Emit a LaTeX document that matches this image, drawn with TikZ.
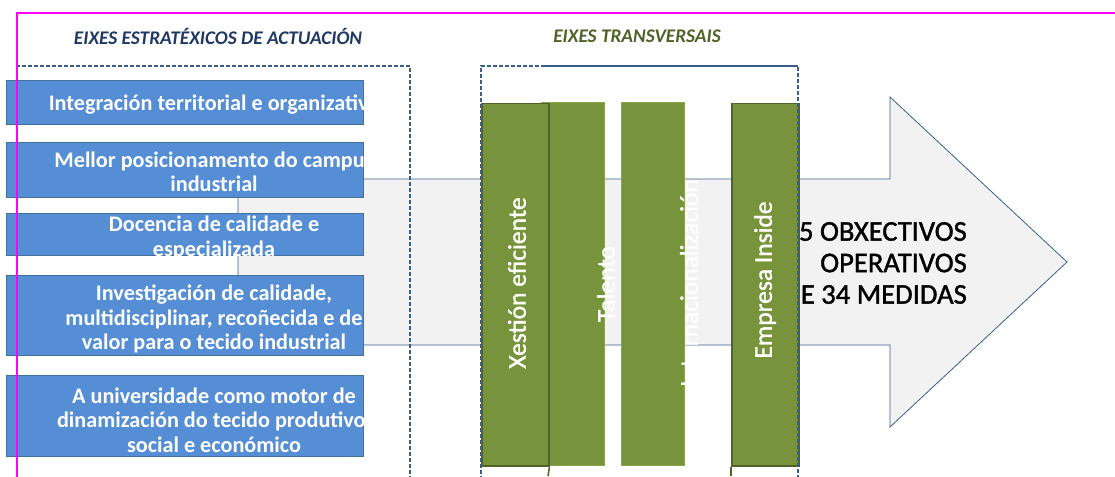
\documentclass[tikz,border=0pt]{standalone}
\usepackage{fontspec}
\setmainfont{Carlito}
\newfontfamily\heavyfont[FakeBold=1.3]{Carlito}
\definecolor{boxblue}{HTML}{558ED5}
\definecolor{boxline}{HTML}{41719C}
\definecolor{dashblue}{HTML}{3A5E8C}
\definecolor{barfill}{HTML}{77933C}
\definecolor{bardark}{HTML}{4F6228}
\definecolor{barlight}{HTML}{8AA54E}
\definecolor{arrowfill}{HTML}{F2F2F2}
\definecolor{navytitle}{HTML}{1F3864}
\definecolor{olivetitle}{HTML}{4F6228}
\definecolor{framemag}{HTML}{FF00FF}
\begin{document}
\begin{tikzpicture}[x=1pt,y=-1pt,
  bluebox/.style={draw=boxline, fill=boxblue, line width=1pt, inner sep=0pt, anchor=north west},
  boxtext/.style={text=white, font=\fontsize{22.2}{24.5}\selectfont\bfseries, align=center, inner sep=0pt},
  greenbar/.style={fill=barfill, draw=bardark, line width=1.5pt, inner sep=0pt, anchor=north west},
  lightbar/.style={fill=barfill, draw=barlight, line width=1pt, inner sep=0pt, anchor=north west},
  bartext/.style={text=white, font=\heavyfont\fontsize{25.5}{28}\selectfont, rotate=90, inner sep=0pt},
  dashbox/.style={draw=dashblue, line width=2pt, dash pattern=on 4pt off 2pt},
  titletext/.style={font=\fontsize{19.3}{22}\selectfont\bfseries\itshape, inner sep=0pt}]
\useasboundingbox (0,0) rectangle (1115,476);
% big arrow
\draw[draw=dashblue, fill=arrowfill, line width=0.8pt] (238,179) -- (890,179) -- (890,97) -- (1067,262) -- (890,427) -- (890,345) -- (238,345) -- cycle;
\node[font=\heavyfont\fontsize{28.6}{31.5}\selectfont, align=right, anchor=east, inner sep=0pt] (obx) at (967,263) {5 OBXECTIVOS\\OPERATIVOS\\E 34 MEDIDAS};
% blue boxes
\node[bluebox, minimum width=357pt, minimum height=44pt] (b1) at (6,80) {};
\node[bluebox, minimum width=357pt, minimum height=55pt] (b2) at (6,142) {};
\node[bluebox, minimum width=357pt, minimum height=42pt] (b3) at (6,213) {};
\node[bluebox, minimum width=357pt, minimum height=80pt] (b4) at (6,275) {};
\node[bluebox, minimum width=357pt, minimum height=81pt] (b5) at (6,375) {};
\begin{scope}
\clip (6,80) rectangle (363,124);
\node[boxtext] (t1) at (214,105) {Integración territorial e organizativa};
\end{scope}
\begin{scope}
\clip (6,142) rectangle (363,197);
\node[boxtext] (t2) at (214,172) {Mellor posicionamento do campus\\industrial};
\end{scope}
\begin{scope}
\clip (6,213) rectangle (363,262);
\node[boxtext] (t3) at (214,238) {Docencia de calidade e\\especializada};
\end{scope}
\begin{scope}
\clip (6,275) rectangle (363,355);
\node[boxtext] (t4) at (214,319) {Investigación de calidade,\\multidisciplinar, recoñecida e de\\valor para o tecido industrial};
\end{scope}
\begin{scope}
\clip (6,375) rectangle (363,456);
\node[boxtext] (t5) at (214,420) {A universidade como motor de\\dinamización do tecido produtivo,\\social e económico};
\end{scope}
% green bars
\node[lightbar, minimum width=63pt, minimum height=363pt] (g2) at (541,102) {};
\node[greenbar, minimum width=67pt, minimum height=362pt] (g1) at (481,103) {};
\node[lightbar, minimum width=63pt, minimum height=363pt] (g3) at (621,102) {};
\node[greenbar, minimum width=67pt, minimum height=362pt] (g4) at (731,103) {};
\coordinate (e1) at (548,476);
\coordinate (e4) at (731,476);
\draw[draw=bardark, line width=1.5pt] (g1.south east) -- (e1);
\draw[draw=bardark, line width=1.5pt] (g4.south west) -- (e4);
\node[bartext] (x1) at (517,283) {Xestión eficiente};
\node[bartext] (x2) at (606,284) {Talento};
\node[bartext] (x3) at (689,283) {Internacionalización};
\node[bartext] (x4) at (765,280) {Empresa Inside};
% dashed boxes
\draw[dashbox] (16,66) -- (410,66) -- (410,480);
\draw[dashbox] (481,480) -- (481,66) -- (798,66) -- (798,480);
\draw[draw=dashblue, line width=2pt] (543,66) -- (798,66);
% titles
\node[titletext, text=navytitle] (h1) at (218,36) {EIXES ESTRATÉXICOS DE ACTUACIÓN};
\node[titletext, text=olivetitle] (h2) at (637,36) {EIXES TRANSVERSAIS};
% magenta frame
\draw[draw=framemag, line width=2pt] (17,478) -- (17,13) -- (1117,13);
\end{tikzpicture}
\end{document}
